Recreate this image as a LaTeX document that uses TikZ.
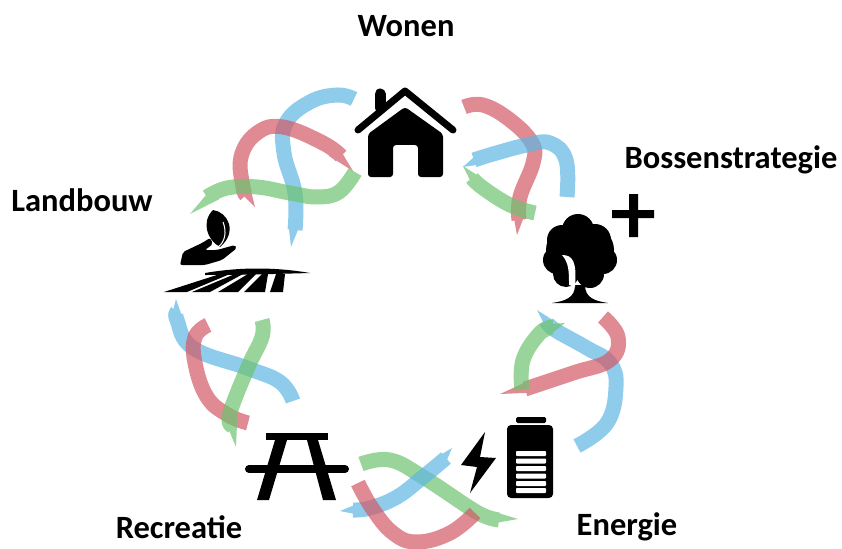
\documentclass[tikz,border=0pt]{standalone}
\usepackage{fontspec}
\setmainfont{Carlito}[Ligatures=Common]
\usetikzlibrary{calc}
\definecolor{linkblue}{HTML}{5FB7E2}
\definecolor{linkred}{HTML}{D35966}
\definecolor{linkgreen}{HTML}{6DC270}
\tikzstyle{theme}=[font=\fontsize{32.5}{36}\selectfont\bfseries, inner sep=0pt]
\tikzstyle{strand}=[line width=15pt, line join=round]
\tikzstyle{icon}=[fill=black, draw=none]
\newcommand{\strand}[3][]{\begin{scope}[transparency group, opacity=0.7]
	\draw[strand, draw=#2] plot[smooth, tension=0.7] coordinates {#3};
	\fill[#2] #1;
\end{scope}}
\newcommand{\tip}[3]{($(#1)!10pt!(#2)!7pt!90:(#2)$) -- ($(#1)!10pt!(#2)!7pt!-90:(#2)$) -- (#3) -- cycle}
\begin{document}
\begin{tikzpicture}[x=1pt, y=-1pt]
	\useasboundingbox (0,0) rectangle (842,548);
	% Teksten
	\node[theme] (wonen) at (406,26) {Wonen};
	\node[theme] (bossen) at (731,160) {Bossenstrategie};
	\node[theme] (landbouw) at (82,200) {Landbouw};
	\node[theme] (recreatie) at (179,527) {Recreatie};
	\node[theme] (energie) at (627,527) {Energie};
	% Wonen - Landbouw
	\strand[\tip{295,230}{295,193}{291,247}]{linkblue}{(354,99) (337,95) (310,102) (286,123) (284,153) (295,193) (295,230)}
	\strand[\tip{341,156}{323,143}{353,171} \tip{246,195}{243,187}{255,207}]{linkred}{(341,156) (323,143) (283,127) (257,133) (241,157) (243,187) (246,195)}
	\strand[\tip{207,197}{227,188}{190,214}]{linkgreen}{(355,172) (339,192) (317,197) (290,193) (257,187) (227,188) (207,197)}
	% Wonen - Bossenstrategie
	\strand[\tip{519,220}{520,197}{517,235}]{linkred}{(464,107) (483,105) (510,120) (532,143) (533,163) (520,197) (519,220)}
	\strand[\tip{474,160}{493,154}{463,167}]{linkblue}{(474,160) (493,154) (527,145) (550,143) (566,160) (567,197)}
	\strand[\tip{472,178}{483,188}{463,166}]{linkgreen}{(472,178) (483,188) (510,205) (535,213)}
	% Bossenstrategie - Energie
	\strand[\tip{547,322}{555,330}{537,310}]{linkblue}{(547,322) (555,330) (587,348) (610,363) (616,387) (607,423) (577,446)}
	\strand[\tip{525,389}{573,373}{500,394}]{linkred}{(603,317) (618,337) (610,360) (573,373) (525,389)}
	\strand[\tip{553,327}{540,333}{565,323}]{linkgreen}{(553,327) (540,333) (523,360) (522,390)}
	% Energie - Recreatie
	\strand[\tip{499,520}{487,517}{518,519}]{linkgreen}{(361,464) (390,460) (423,477) (470,508) (487,517) (499,520)}
	\strand[\tip{446,458}{423,477}{452,448} \tip{353,510}{370,508}{340,511}]{linkblue}{(446,458) (423,477) (397,497) (370,508) (353,510)}
	\strand{linkred}{(358,483) (372,508) (393,533) (417,542) (450,533) (475,513)}
	% Recreatie - Landbouw
	\strand[\tip{177,312}{177,320}{176,299}]{linkblue}{(177,312) (177,320) (193,348) (247,368) (280,382) (293,401)}
	\strand{linkred}{(208,325) (195,337) (195,363) (207,397) (228,415) (248,423)}
	\strand[\tip{232,426}{230,413}{236,447}]{linkgreen}{(262,320) (262,337) (248,367) (230,413) (232,426)}
	% Huis
	\draw[line width=7pt, line cap=round, line join=round] (358,130) -- (405,91) -- (453,130);
	\draw[line width=11pt, line cap=round] (380,94) -- (380,108);
	\path[icon, rounded corners=3pt] (368,134) -- (405,107) -- (443,134) -- (443,177) -- (418,177) -- (418,145) -- (393,145) -- (393,177) -- (368,177) -- cycle;
	% Boom en plus
	\foreach \cx/\cy/\r in {578/230/16, 562/240/15, 595/240/16, 557/260/14, 603/260/14, 566/274/13, 590/274/14, 570/250/24, 590/250/24}
		\fill (\cx,\cy) circle (\r);
	\path[icon] (552,303) .. controls (565,301) and (575,298) .. (575,285) -- (585,285) .. controls (585,298) and (595,301) .. (608,303) -- cycle;
	\fill[white] (562,255) .. controls (573,255) and (577,262) .. (575,287) -- (569,285) .. controls (569,272) and (569,263) .. (562,255) -- cycle;
	\path[icon] (612,210) rectangle (654,218) (629,194) rectangle (638,237);
	% Hand en veld
	\path[icon] (213,210) .. controls (228,212) and (238,232) .. (220,247) .. controls (207,240) and (201,222) .. (213,210) -- cycle;
	\draw[white, line width=1pt] (223,222) .. controls (227,232) and (225,242) .. (218,247);
	\path[icon, rounded corners=2pt] (180,265) -- (183,252) -- (202,243) -- (210,238) -- (213,244) -- (205,250) -- (217,250) -- (235,245) -- (237,248) -- (222,260) -- (205,265) -- cycle;
	\path[icon] (205,273) .. controls (240,267) and (275,267) .. (310,273) .. controls (275,274) and (240,275) .. (205,275) -- cycle;
	\foreach \a/\b/\c/\d in {220/230/187/164, 235/243/210/192, 248/256/238/218, 262/268/265/244, 276/285/283/270}
		\path[icon] (\a,274) -- (\b,274) -- (\c,292) -- (\d,292) -- cycle;
	% Batterij en bliksem
	\path[icon, rounded corners=4pt] (507,425) rectangle (553,498);
	\path[icon, rounded corners=1.5pt] (516,417) rectangle (546,423);
	\foreach \y in {451,458.5,466,473.5,481,488}
		\fill[white, rounded corners=0.8pt] (516,\y) rectangle (546,\y+5);
	\path[icon] (485,432) -- (461,465) -- (477,467) -- (470,493) -- (496,458) -- (480,457) -- cycle;
	% Picknicktafel
	\path[icon] (266,433) rectangle (328,440);
	\draw[line width=8pt, line cap=round] (249,469) -- (345,469);
	\path[icon] (275,440) -- (287,440) -- (269,500) -- (257,500) -- cycle (307,440) -- (318,440) -- (336,500) -- (323,500) -- cycle;
\end{tikzpicture}
\end{document}
